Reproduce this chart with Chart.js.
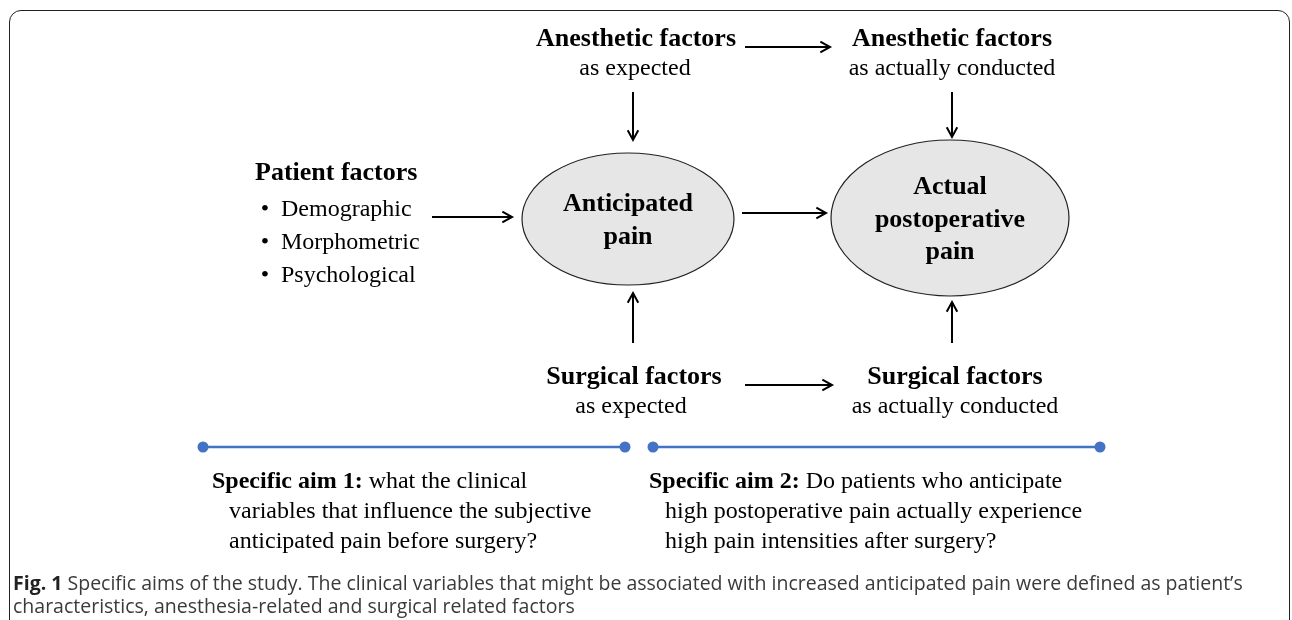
<!DOCTYPE html>
<html>
<head>
<meta charset="utf-8">
<script src="https://cdn.jsdelivr.net/npm/chart.js@4.4.1/dist/chart.umd.min.js"></script>
<style>
  html, body { margin: 0; padding: 0; background: #fff; overflow: hidden; }
  #wrap { position: relative; width: 1292px; height: 620px; }
  #frame {
    position: absolute; left: 9px; top: 10px; width: 1281px; height: 660px;
    border: 1.5px solid #222; border-radius: 12px; box-sizing: border-box;
  }
  #chart { position: absolute; left: 0; top: 0; }
  #caption {
    position: absolute; left: 13px; top: 571px; width: 1275px;
    font-family: "Open Sans", sans-serif; font-size: 19.5px; line-height: 23px; color: #3a3a3a;
    white-space: nowrap;
  }
  #caption b { color: #222; }
</style>
</head>
<body>
<div id="wrap">
  <div id="frame"></div>
  <canvas id="chart" width="1292" height="620"></canvas>
  <div id="caption"><b>Fig. 1</b> Specific aims of the study. The clinical variables that might be associated with increased anticipated pain were defined as patient’s<br>characteristics, anesthesia-related and surgical related factors</div>
</div>
<script>
// diagram layout, in the 1292 x 620 units of the chart's own axes
const headings = [
  ["Anesthetic factors", 636, 39],
  ["Anesthetic factors", 952, 39],
  ["Surgical factors", 634, 377],
  ["Surgical factors", 955, 377],
];
const subheadings = [
  ["as expected", 635, 69],
  ["as actually conducted", 952, 69],
  ["as expected", 631, 407],
  ["as actually conducted", 955, 407],
];
const patientTitle = ["Patient factors", 255, 173];
const patientItems = ["Demographic", "Morphometric", "Psychological"];
const patientItemY = [210, 243, 276];

const nodeLabels = [["Anticipated", "pain"], ["Actual", "postoperative", "pain"]];
const nodeCenters = [[628, 219], [950, 218]];
const nodeRadii = [[106, 66], [119, 78]];

// arrows: [x1, y1, x2, y2], head at the second point
const arrows = [
  [432, 217, 512, 217],
  [742, 213, 826, 213],
  [745, 47, 830, 47],
  [745, 385, 832, 385],
  [633, 92, 633, 140],
  [952, 92, 952, 137],
  [633, 343, 633, 293],
  [952, 343, 952, 302],
];

// blue aim bars
const aimBars = [[203, 625], [653, 1100]];
const aimBarY = 447;
const aimTitles = ["Specific aim 1:", "Specific aim 2:"];
const aimText = [
  ["what the clinical", "variables that influence the subjective", "anticipated pain before surgery?"],
  ["Do patients who anticipate", "high postoperative pain actually experience", "high pain intensities after surgery?"],
];
const aimX = [[212, 229], [649, 665]];
const aimY = [482, 512, 542];

const serif = '"Liberation Serif", "Times New Roman", serif';
const boldFont = "bold 26px " + serif;
const plainFont = "24px " + serif;

const datasets = [];
arrows.forEach(a => {
  datasets.push({
    type: "line",
    data: [{ x: a[0], y: a[1] }, { x: a[2], y: a[3] }],
    borderColor: "#000",
    borderWidth: 2,
    pointRadius: 0,
    arrow: true,
  });
});
aimBars.forEach(b => {
  datasets.push({
    type: "line",
    data: [{ x: b[0], y: aimBarY }, { x: b[1], y: aimBarY }],
    borderColor: "#4472c4",
    backgroundColor: "#4472c4",
    borderWidth: 2.5,
    pointRadius: 5.5,
    pointBorderWidth: 0,
  });
});

const diagramPlugin = {
  id: "diagram",
  beforeDatasetsDraw(chart) {
    const { ctx, scales: { x, y } } = chart;
    ctx.save();
    nodeCenters.forEach((c, i) => {
      const cx = x.getPixelForValue(c[0]);
      const cy = y.getPixelForValue(c[1]);
      const rx = Math.abs(x.getPixelForValue(c[0] + nodeRadii[i][0]) - cx);
      const ry = Math.abs(y.getPixelForValue(c[1] + nodeRadii[i][1]) - cy);
      ctx.beginPath();
      ctx.ellipse(cx, cy, rx, ry, 0, 0, Math.PI * 2);
      ctx.fillStyle = "#e6e6e6";
      ctx.fill();
      ctx.lineWidth = 1.2;
      ctx.strokeStyle = "#222";
      ctx.stroke();
    });
    ctx.restore();
  },
  afterDatasetsDraw(chart) {
    const { ctx, scales: { x, y } } = chart;
    ctx.save();
    // arrow heads
    chart.data.datasets.forEach(ds => {
      if (!ds.arrow) return;
      const p1 = ds.data[0], p2 = ds.data[1];
      const x1 = x.getPixelForValue(p1.x), y1 = y.getPixelForValue(p1.y);
      const x2 = x.getPixelForValue(p2.x), y2 = y.getPixelForValue(p2.y);
      const ang = Math.atan2(y2 - y1, x2 - x1);
      const len = 11, spread = 0.5;
      ctx.beginPath();
      ctx.moveTo(x2 - len * Math.cos(ang - spread), y2 - len * Math.sin(ang - spread));
      ctx.lineTo(x2, y2);
      ctx.lineTo(x2 - len * Math.cos(ang + spread), y2 - len * Math.sin(ang + spread));
      ctx.strokeStyle = "#000";
      ctx.lineWidth = 2;
      ctx.stroke();
    });

    ctx.fillStyle = "#000";
    ctx.textBaseline = "middle";
    const put = (t, vx, vy, bold, align) => {
      ctx.font = bold ? boldFont : plainFont;
      ctx.textAlign = align;
      ctx.fillText(t, x.getPixelForValue(vx), y.getPixelForValue(vy));
    };
    headings.forEach(h => put(h[0], h[1], h[2], true, "center"));
    subheadings.forEach(h => put(h[0], h[1], h[2], false, "center"));
    put(patientTitle[0], patientTitle[1], patientTitle[2], true, "left");
    patientItems.forEach((t, i) => {
      put("•", 265, patientItemY[i], false, "center");
      put(t, 281, patientItemY[i], false, "left");
    });
    nodeLabels.forEach((lines, i) => {
      const c = nodeCenters[i];
      const step = 32.5;
      lines.forEach((t, j) => {
        put(t, c[0], c[1] + 2 + (j - (lines.length - 1) / 2) * step, true, "center");
      });
    });
    aimTitles.forEach((title, i) => {
      ctx.textAlign = "left";
      ctx.font = boldFont.replace("26px", "24px");
      const px = x.getPixelForValue(aimX[i][0]);
      const py = y.getPixelForValue(aimY[0]);
      ctx.fillText(title, px, py);
      const w = ctx.measureText(title + " ").width;
      ctx.font = plainFont;
      ctx.fillText(aimText[i][0], px + w, py);
      for (let j = 1; j < aimText[i].length; j++) {
        ctx.fillText(aimText[i][j], x.getPixelForValue(aimX[i][1]), y.getPixelForValue(aimY[j]));
      }
    });
    ctx.restore();
  },
};

new Chart(document.getElementById("chart"), {
  type: "scatter",
  data: { datasets: datasets },
  options: {
    responsive: false,
    animation: false,
    devicePixelRatio: 1,
    layout: { padding: 0, autoPadding: false },
    scales: {
      x: { type: "linear", min: 0, max: 1292, display: false },
      y: { type: "linear", min: 0, max: 620, reverse: true, display: false },
    },
    plugins: { legend: { display: false }, tooltip: { enabled: false } },
    elements: { line: { tension: 0 } },
  },
  plugins: [diagramPlugin],
});
</script>
</body>
</html>
